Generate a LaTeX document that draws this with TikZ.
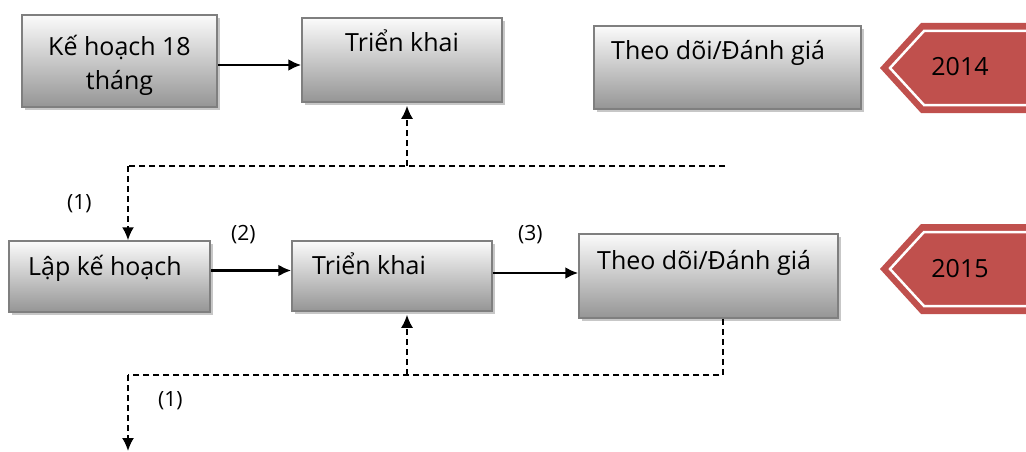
\documentclass[tikz,border=0pt]{standalone}
\usepackage{fontspec}
\setmainfont{Open Sans}
\usetikzlibrary{arrows.meta,shadows}
\definecolor{boxline}{HTML}{7F7F7F}
\definecolor{boxtop}{HTML}{FBFBFB}
\definecolor{boxbot}{HTML}{959595}
\definecolor{yearred}{HTML}{C0504D}

\begin{document}
\begin{tikzpicture}[%
    x=1pt,y=-1pt,
    box/.style={draw=boxline,line width=1.5pt,top color=boxtop,bottom color=boxbot,
      drop shadow={shadow xshift=3pt,shadow yshift=-3pt,fill=black!22,opacity=1},
      inner sep=0pt},
    txt/.style={font=\fontsize{25}{34}\selectfont,inner sep=0pt},
    num/.style={font=\fontsize{21}{24}\selectfont,inner sep=0pt,anchor=base west},
    arr/.style={line width=2.6pt,-{Latex[length=13pt,width=12pt]}},
    dsh/.style={line width=2pt,dash pattern=on 6pt off 4pt},
    dsharr/.style={dsh,-{Latex[length=13pt,width=12pt]}},
  ]
    \useasboundingbox (0,0) rectangle (1026,452);

    \node[box,minimum width=195,minimum height=92] (kh18) at (119.5,61) {};
    \node[box,minimum width=200,minimum height=84] (tk1) at (402,60) {};
    \node[box,minimum width=267,minimum height=83] (td1) at (727.5,67.5) {};
    \node[box,minimum width=201,minimum height=71] (lkh) at (109.5,276.5) {};
    \node[box,minimum width=200,minimum height=70] (tk2) at (392,276) {};
    \node[box,minimum width=259,minimum height=84] (td2) at (708.5,276) {};

    \node[txt,align=center,anchor=base] (kh18t) at (119.5,89) {Kế hoạch 18\\tháng};
    \node[txt,anchor=base west] (tk1t) at (345,52) {Triển khai};
    \node[txt,anchor=base west] (td1t) at (611,60) {Theo dõi/Đánh giá};
    \node[txt,anchor=base west] (lkht) at (28,275) {Lập kế hoạch};
    \node[txt,anchor=base west] (tk2t) at (312,274) {Triển khai};
    \node[txt,anchor=base west] (td2t) at (597,269) {Theo dõi/Đánh giá};

    \foreach \yc/\yr in {68/2014,269/2015}{
      \fill[yearred] (1026,\yc-45) -- (921,\yc-45) -- (880,\yc) -- (921,\yc+45) -- (1026,\yc+45) -- cycle;
      \draw[white,line width=2.5pt] (1026,\yc-37) -- (924,\yc-37) -- (890,\yc) -- (924,\yc+37) -- (1026,\yc+37);
      \node[txt,anchor=base] (y\yr) at (960,\yc+8) {\yr};
    }

    \node[num] (n1a) at (67,209) {(1)};
    \node[num] (n2) at (231,240) {(2)};
    \node[num] (n3) at (518,240) {(3)};
    \node[num] (n1b) at (158,406) {(1)};

    \coordinate (l1) at (128,166);
    \coordinate (m1) at (407,166);
    \coordinate (r1) at (725,166);
    \coordinate (l2) at (128,375);
    \coordinate (m2) at (407,375);
    \coordinate (r2) at (723,375);
    \coordinate (e2) at (128,451);

    \draw[arr] ([yshift=-4pt]kh18.east) -- ([yshift=-4pt]kh18.east -| tk1.west);
    \draw[arr] ([yshift=6pt]lkh.east) -- ([yshift=6pt]lkh.east -| tk2.west);
    \draw[arr] ([yshift=3pt]tk2.east) -- ([yshift=3pt]tk2.east -| td2.west);

    \draw[dsh] (r1) -- (l1);
    \draw[dsharr] (l1) -- (l1 |- lkh.north);
    \draw[dsharr,shorten >=3pt] (m1) -- (m1 |- tk1.south);
    \draw[dsh] (r2 |- td2.south) -- (r2) -- (l2);
    \draw[dsharr] (l2) -- (e2);
    \draw[dsharr,shorten >=3pt] (m2) -- (m2 |- tk2.south);
\end{tikzpicture}
\end{document}
